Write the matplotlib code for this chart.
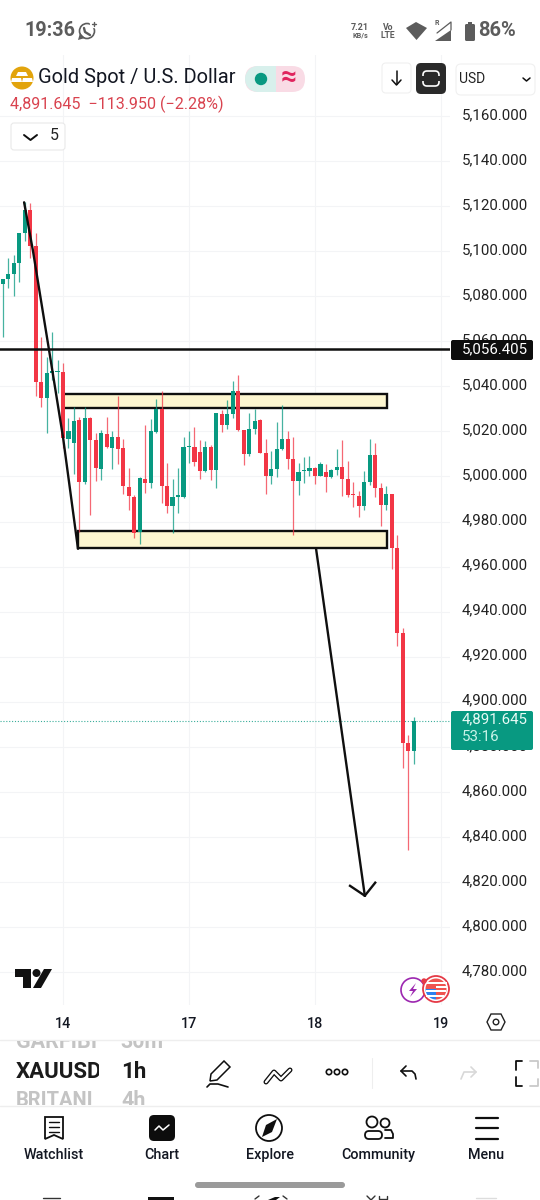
import matplotlib
matplotlib.use("Agg")
import matplotlib.pyplot as plt
from matplotlib.patches import Rectangle, FancyBboxPatch, Circle, Polygon, Wedge
from matplotlib.transforms import ScaledTranslation

plt.rcParams['font.family'] = ['Roboto', 'DejaVu Sans']

# hourly candles, index 0 is the first bar of the 14th
first_index = -11
opens = [5085.4, 5087.6, 5089.8, 5094.7, 5108.0, 5118.2, 5102.2, 5041.9, 5034.8, 5045.9, 5046.3,
         5046.3, 5016.7, 5014.9, 5025.0, 4997.6, 5025.9, 5016.2, 5003.4, 5018.9, 5012.7, 5017.5,
         5012.7, 4995.4, 4991.0, 4975.5, 4999.0, 4997.2, 5019.8, 5029.9, 4995.9, 4987.1, 4991.0,
         4991.0, 5012.9, 5013.1, 5010.9, 5002.5, 5013.1, 5002.9, 5027.7, 5022.9, 5027.7, 5037.9,
         5020.6, 5010.0, 5021.1, 5025.0, 5010.5, 5000.3, 5003.4, 5012.2, 5016.7, 5007.8, 4998.1,
         5002.3, 5002.5, 5003.8, 5000.3, 5002.1, 4999.8, 5002.9, 5004.3, 4999.0, 4991.9, 4991.5,
         4987.1, 4997.6, 5009.6, 4995.0, 4987.5, 4992.4, 4968.4, 4930.5, 4881.7, 4878.1]
highs = [5087.8, 5096.9, 5098.2, 5108.0, 5121.7, 5121.3, 5108.0, 5061.9, 5053.0, 5064.1, 5051.7,
         5050.3, 5025.9, 5030.8, 5026.4, 5030.8, 5026.4, 5019.3, 5020.6, 5026.4, 5020.2, 5035.7,
         5016.7, 5003.8, 4991.9, 4999.8, 5022.9, 5025.5, 5034.4, 5037.9, 5006.0, 4999.0, 5003.8,
         5017.5, 5020.2, 5022.0, 5016.2, 5015.8, 5014.0, 5028.1, 5029.5, 5033.9, 5042.4, 5045.0,
         5020.8, 5028.1, 5029.9, 5025.5, 5016.7, 5011.4, 5024.2, 5031.7, 5020.2, 5017.5, 5006.0,
         5008.7, 5009.1, 5004.3, 5006.5, 5005.6, 5003.4, 5012.2, 5016.2, 5006.9, 4997.6, 4993.7,
         5002.5, 5016.7, 5014.9, 4997.2, 4995.9, 4992.4, 4974.1, 4932.7, 4885.3, 4893.3]
lows = [5061.9, 5083.6, 5080.0, 5086.3, 5104.4, 5096.9, 5035.7, 5030.8, 5019.3, 5042.8, 5037.0,
        5012.7, 5012.7, 5001.2, 4975.5, 4996.7, 4983.1, 4998.1, 4998.5, 5012.7, 5003.4, 5005.6,
        4992.4, 4985.3, 4972.9, 4970.2, 4992.8, 4995.0, 5019.3, 4988.4, 4984.0, 4974.7, 4984.0,
        4990.6, 5006.0, 5004.7, 4999.0, 5002.1, 4998.5, 4995.0, 5019.8, 5021.1, 5025.9, 5020.2,
        5005.1, 5009.1, 5018.9, 5010.3, 4992.4, 4996.7, 4999.8, 5011.8, 5003.4, 4974.2, 4991.9,
        4997.2, 5000.3, 4996.7, 5000.1, 4993.3, 4999.4, 5000.7, 4991.5, 4991.0, 4986.6, 4982.2,
        4984.9, 4996.3, 4991.0, 4977.8, 4985.3, 4959.1, 4924.7, 4870.6, 4834.3, 4872.4]
closes = [5087.6, 5089.8, 5094.7, 5108.0, 5118.2, 5102.2, 5041.9, 5034.8, 5045.9, 5046.8, 5046.8,
          5017.1, 5020.2, 5024.6, 4997.6, 5025.9, 5016.2, 5003.8, 5019.3, 5013.1, 5017.5, 5012.2,
          4995.9, 4991.5, 4975.1, 4999.4, 4997.2, 5020.2, 5029.9, 4995.9, 4987.1, 4991.0, 4991.3,
          5013.1, 5013.1, 5006.5, 5002.5, 5013.1, 5002.9, 5028.1, 5022.9, 5027.7, 5037.9, 5020.6,
          5010.0, 5021.1, 5024.6, 5010.5, 5000.3, 5003.4, 5012.2, 5016.7, 5007.8, 4998.1, 5002.1,
          5002.5, 5003.8, 5000.3, 5005.6, 4999.8, 5002.9, 5004.3, 4999.0, 4991.9, 4991.7, 4987.1,
          4997.6, 5009.6, 4995.0, 4987.5, 4992.4, 4968.4, 4930.5, 4881.7, 4878.1, 4891.645]

price_ticks = [5160, 5140, 5120, 5100, 5080, 5060, 5040, 5020, 5000, 4980,
               4960, 4940, 4920, 4900, 4880, 4860, 4840, 4820, 4800, 4780]
day_ticks = [0, 23, 46, 69]
day_labels = ["14", "17", "18", "19"]

last_price = 4891.645
level_price = 5056.405

# drawings on top of the candles, as (bar index, price)
upper_zone = (0.0, 59.1, 5030.2, 5036.8)
lower_zone = (2.74, 59.1, 4968.1, 4975.6)
trend_x = [-7.1, -5.5, -2.4, 0.0, 2.74]
trend_y = [5121.7, 5100.4, 5053.9, 5017.5, 4967.9]
arrow_x = [46.2, 55.1]
arrow_y = [4967.9, 4813.9]
head_x = [52.4, 55.1, 57.0]
head_y = [4818.3, 4813.9, 4819.7]

RED = "#F23645"
GREEN = "#089981"
BLACK = "#0f0f0f"

fig = plt.figure(figsize=(5.4, 12), dpi=100, facecolor="white")

# chart pane, 450 px wide from y=55 to y=1005
ax = fig.add_axes([0, 1 - 1005 / 1200, 450 / 540, 950 / 1200])
ax.set_xlim(-11.5, 70.65)
ax.set_ylim(4765.4, 5187.08)
for s in ax.spines.values():
    s.set_visible(False)
ax.yaxis.tick_right()
ax.set_yticks(price_ticks)
ax.set_yticklabels([f"{p:,}.000" for p in price_ticks], fontsize=10.8, color="#222222")
ax.set_xticks(day_ticks)
ax.set_xticklabels(day_labels, fontsize=10.4, fontweight="medium", color="#131722")
ax.tick_params(axis="y", length=0, pad=8.3)
ax.tick_params(axis="x", length=0, pad=8.5)
ax.grid(True, color="#f3f4f6", lw=0.8)
ax.set_axisbelow(True)
# price labels sit slightly above their grid lines
lift = ScaledTranslation(0, 2.5 / 72 * 0.72, fig.dpi_scale_trans)
for t in ax.get_yticklabels():
    t.set_transform(t.get_transform() + lift)

for n in range(len(opens)):
    i = first_index + n
    col = GREEN if closes[n] >= opens[n] else RED
    ax.vlines(i, lows[n], highs[n], color=col, lw=0.9, alpha=0.75, zorder=2)
    bottom = min(opens[n], closes[n])
    height = max(abs(closes[n] - opens[n]), 0.7)
    ax.bar(i, height, bottom=bottom, width=0.75, color=col, lw=0, zorder=3)

ax.axhline(level_price, color=BLACK, lw=1.8, zorder=4)
ax.axhline(last_price, color=GREEN, lw=0.8, ls=(0, (1, 1.6)), alpha=0.8, zorder=1)

for x0, x1, y0, y1 in [upper_zone, lower_zone]:
    ax.add_patch(Rectangle((x0, y0), x1 - x0, y1 - y0, fc="#fdf6d0", ec=BLACK, lw=1.7, zorder=1.5))
ax.plot(trend_x, trend_y, color=BLACK, lw=1.7, zorder=4, solid_capstyle="round")
ax.plot(arrow_x, arrow_y, color=BLACK, lw=1.7, zorder=4)
ax.plot(head_x, head_y, color=BLACK, lw=1.7, zorder=4)

# app chrome in pixel coordinates
ui = fig.add_axes([0, 0, 1, 1])
ui.set_xlim(0, 540)
ui.set_ylim(1200, 0)
ui.axis("off")
ui.patch.set_alpha(0)


def rbox(x, y, w, h, r, fc, ec="none", lw=0.8, z=5):
    ui.add_patch(FancyBboxPatch((x + r, y + r), w - 2 * r, h - 2 * r,
                                boxstyle=f"round,pad={r}", fc=fc, ec=ec, lw=lw, zorder=z))


def line(xs, ys, c=BLACK, lw=1.3, z=6):
    ui.plot(xs, ys, color=c, lw=lw, zorder=z, solid_capstyle="round", solid_joinstyle="round")


def clipped(x, y, s, right, **kw):
    # list rows are cut off at the edges of the picker
    t = ui.text(x, y, s, va="center", zorder=6, **kw)
    t.set_clip_path(Rectangle((0, 1041), right, 64, transform=ui.transData))
    t.set_clip_on(True)
    return t


# status bar
GREY = "#5c5c5c"
ui.text(24, 31, "19:36", fontsize=14.2, fontweight="bold", color=GREY, va="center")
ui.add_patch(Circle((87, 31), 7.5, fc="none", ec=GREY, lw=1.2, zorder=5))
ui.add_patch(Circle((94, 24), 4.2, fc="white", ec="none", zorder=5.2))
ui.add_patch(Polygon([[78, 40], [80, 33], [85, 38]], fc=GREY, ec="none", zorder=5.3))
line([84, 85, 90], [28, 32, 35], GREY, 1.7)
line([92, 96], [24, 24], GREY, 1.0)
line([94, 94], [22, 26], GREY, 1.0)
ui.text(360, 27, "7.21", fontsize=6.4, fontweight="bold", color=GREY, ha="center", va="center")
ui.text(360, 36, "KB/s", fontsize=5.2, fontweight="bold", color=GREY, ha="center", va="center")
ui.text(388, 27, "Vo", fontsize=6.2, fontweight="bold", color=GREY, ha="center", va="center")
ui.text(388, 36, "LTE", fontsize=6.2, fontweight="bold", color=GREY, ha="center", va="center")
ui.add_patch(Polygon([[406, 28], [416, 22], [427, 28], [416.5, 40]], fc=GREY, ec="none"))
ui.add_patch(Polygon([[435, 41], [451, 41], [451, 30]], fc=GREY, ec="none"))
line([437, 451, 451], [33, 22, 30], GREY, 0.9)
ui.text(437, 23, "R", fontsize=5, fontweight="bold", color=GREY, ha="center", va="center")
rbox(465, 24, 10, 17, 1.5, GREY)
ui.add_patch(Rectangle((468, 22), 4, 2, fc=GREY, ec="none"))
ui.text(478, 31, "86%", fontsize=14.5, fontweight="bold", color=GREY, va="center")

# symbol header
ui.add_patch(Circle((22, 78), 11.5, fc="#e2a40c", ec="none", zorder=5))
ui.add_patch(Polygon([[18, 72], [26, 72], [28, 76], [16, 76]], fc="white", ec="none", zorder=6))
ui.add_patch(Polygon([[12, 78], [21, 78], [22, 82], [11, 82]], fc="white", ec="none", zorder=6))
ui.add_patch(Polygon([[23, 78], [32, 78], [33, 82], [22, 82]], fc="white", ec="none", zorder=6))
ui.text(38.5, 77.5, "Gold Spot / U.S. Dollar", fontsize=14.4, color="#131722", va="center", zorder=6)
rbox(245, 66, 60, 26, 13, "#f9dbe5", z=5)
ui.add_patch(Wedge((258, 79), 13, 90, 270, fc="#d8f0ec", ec="none", zorder=5.5))
ui.add_patch(Rectangle((258, 66), 18, 26, fc="#d8f0ec", ec="none", zorder=5.5))
ui.add_patch(Circle((261, 79), 6.2, fc=GREEN, ec="none", zorder=6))
ui.text(289, 78, "≈", fontsize=20, fontweight="bold", color="#e0245e", ha="center", va="center", zorder=6)
ui.text(10, 104, "4,891.645  −113.950 (−2.28%)", fontsize=11.6, color="#d9434f", va="center", zorder=6)
rbox(11, 123, 54, 27, 3, "white", ec="#e9e9e9")
line([24, 30.5, 37], [135, 140, 135], BLACK, 1.4)
ui.text(54, 136, "5", fontsize=11.5, color="#222222", ha="center", va="center", zorder=6)

# top right buttons
rbox(382, 63, 29, 30, 4, "white", ec="#f0f0f0")
line([396.5, 396.5], [71, 84], BLACK, 1.1)
line([392, 396.5, 401], [80, 85, 80], BLACK, 1.1)
rbox(416, 63, 30, 31, 5, "#2a2a2a")
rbox(423, 71, 16, 15, 4, "none", ec="white", lw=1.2, z=6)
ui.add_patch(Rectangle((420, 76), 22, 5, fc="#2a2a2a", ec="none", zorder=6.5))
rbox(456, 64, 79, 31, 5, "white", ec="#f0f0f0")
ui.text(459.5, 79, "USD", fontsize=10, color="#222222", va="center", zorder=6)
line([523, 526.5, 530], [78, 81, 78], BLACK, 1.1)

# price tags
rbox(451, 340, 82, 20, 2, "#0d0d0d")
ui.text(462, 349.5, "5,056.405", fontsize=10.8, color="white", va="center", zorder=6)
rbox(451, 711, 82, 39, 2, GREEN)
ui.text(462, 719.5, "4,891.645", fontsize=10.8, color="#e8fbf6", va="center", zorder=6)
ui.text(462, 737, "53:16", fontsize=10.8, color="#c9f3e8", va="center", zorder=6)

# TradingView mark
ui.add_patch(Polygon([[15, 969], [31, 969], [31, 988], [23, 988], [23, 977], [15, 977]], fc="#111111", ec="none", zorder=6))
ui.add_patch(Circle((36.5, 973), 4, fc="#111111", ec="none", zorder=6))
ui.add_patch(Polygon([[44, 969], [52, 969], [41, 988], [33, 988]], fc="#111111", ec="none", zorder=6))

# event badges
ui.add_patch(Circle((413, 990), 12, fc="white", ec="#9c27b0", lw=1.2, zorder=6))
ui.add_patch(Polygon([[416, 983], [409, 991], [413, 991], [410, 997], [417, 989], [413, 989]], fc="#9c27b0", ec="none", zorder=6.1))
ui.add_patch(Circle((436, 989), 13, fc="white", ec="#e53946", lw=1.3, zorder=6.2))
ui.add_patch(Wedge((436, 989), 10.5, 180, 360, fc="#ef5350", ec="none", zorder=6.3))
ui.add_patch(Rectangle((426, 990), 20, 2, fc="white", ec="none", zorder=6.4))
ui.add_patch(Rectangle((426, 995), 18, 1.8, fc="white", ec="none", zorder=6.4))
ui.add_patch(Wedge((436, 989), 10.5, 90, 180, fc="#2f80ed", ec="none", zorder=6.3))
ui.add_patch(Wedge((436, 989), 10.5, 0, 90, fc="#ef5350", ec="none", zorder=6.3))
ui.add_patch(Rectangle((425.5, 982), 21, 1.8, fc="white", ec="none", zorder=6.4))
ui.add_patch(Rectangle((436, 986), 11, 1.8, fc="white", ec="none", zorder=6.4))
ui.add_patch(Circle((424, 981), 2.7, fc="#e53946", ec="none", zorder=6.5))

# settings hexagon next to the time scale
ui.add_patch(Polygon([[487, 1022], [491, 1014], [501, 1014], [505, 1022], [501, 1030], [491, 1030]], fc="none", ec="#222222", lw=1.0, zorder=6))
ui.add_patch(Circle((496, 1022), 2.8, fc="none", ec="#222222", lw=1.0, zorder=6))

# layout list and drawing toolbar
line([0, 540], [1040, 1040], "#eeeeee", 1.0)
line([0, 540], [1106, 1106], "#eeeeee", 1.0)
line([372, 372], [1058, 1088], "#eeeeee", 0.8)
clipped(16, 1042, "GARFIBI", 97, fontsize=15.5, fontweight="bold", color="#c4c4c4")
clipped(120, 1042, "30m", 200, fontsize=15.5, fontweight="bold", color="#c4c4c4")
clipped(16, 1072, "XAUUSD", 99, fontsize=16, fontweight="bold", color="#1b1b1b")
clipped(121, 1072, "1h", 200, fontsize=16, fontweight="bold", color="#1b1b1b")
clipped(16, 1101, "BRITANI", 93, fontsize=14.5, fontweight="bold", color="#c4c4c4")
clipped(121, 1101, "4h", 200, fontsize=15.5, fontweight="bold", color="#c4c4c4")

# pencil with a squiggle
ui.add_patch(Polygon([[211, 1074], [224, 1061], [230, 1067], [217, 1080], [210, 1081]], fc="white", ec=BLACK, lw=1.1, zorder=6))
line([207, 210, 218, 228], [1087, 1084, 1084, 1087], BLACK, 1.2)
# trend tool
line([266, 274, 281, 290], [1082, 1072, 1079, 1070], BLACK, 3.6)
line([266, 274, 281, 290], [1082, 1072, 1079, 1070], "white", 1.7, z=6.2)
# three dots
for cx in [329, 337, 345]:
    ui.add_patch(Circle((cx, 1072), 2.7, fc="white", ec=BLACK, lw=1.2, zorder=6))
# undo, redo
line([401, 412, 415, 416], [1071, 1071, 1074, 1079], BLACK, 1.2)
line([406, 401, 406], [1066, 1071, 1076], BLACK, 1.2)
line([461, 464, 476], [1079, 1072, 1072], "#d8d8d8", 1.2)
line([471, 476, 471], [1067, 1072, 1077], "#d8d8d8", 1.2)
# full screen corners
line([522, 516, 516], [1061, 1061, 1070], BLACK, 1.3)
line([522, 516, 516], [1086, 1086, 1077], BLACK, 1.3)
line([530, 538, 538], [1061, 1061, 1068], "#c9c9c9", 1.3)
line([530, 538, 538], [1086, 1086, 1079], "#c9c9c9", 1.3)

# bottom navigation
tab_x = [54, 162, 270, 378, 486]
tab_names = ["Watchlist", "Chart", "Explore", "Community", "Menu"]
for x, name in zip(tab_x, tab_names):
    ui.text(x, 1155, name, fontsize=10.4, fontweight="medium", color="#131722", ha="center", va="center", zorder=6)

ui.add_patch(Polygon([[45, 1117], [63, 1117], [63, 1139], [54, 1135], [45, 1139]], fc="none", ec=BLACK, lw=1.3, zorder=6))
for y in [1122, 1127, 1132]:
    line([49, 59], [y, y], BLACK, 1.0)
rbox(149, 1115, 26, 26, 5, "#0d0d0d")
line([155, 159, 163, 169], [1130, 1126, 1130, 1125], "white", 1.1)
ui.add_patch(Circle((269, 1128), 13, fc="none", ec=BLACK, lw=1.3, zorder=6))
ui.add_patch(Polygon([[277, 1119], [272, 1132], [262, 1137], [266, 1125]], fc=BLACK, ec="none", zorder=6))
ui.add_patch(Circle((372, 1122), 5.5, fc="none", ec=BLACK, lw=1.3, zorder=6))
ui.add_patch(Circle((385, 1123), 4.5, fc="none", ec=BLACK, lw=1.3, zorder=6))
rbox(365, 1131, 17, 8, 4, "none", ec=BLACK, lw=1.3, z=6)
line([385, 391, 393, 393, 385], [1130, 1130, 1134, 1138, 1138], BLACK, 1.3)
for y in [1118, 1128, 1139]:
    line([476, 498], [y, y], BLACK, 1.6)

rbox(195, 1182, 150, 6, 3, "#9a9a9a")

# next screen peeking in at the very bottom
line([43, 60], [1198, 1198], "#333333", 1.0)
ui.add_patch(Rectangle((148, 1197), 26, 3, fc="#111111", ec="none", zorder=6))
line([255, 259], [1199, 1196], "#333333", 1.0)
ui.add_patch(Polygon([[268, 1200], [275, 1197], [280, 1197], [276, 1200]], fc="#111111", ec="none", zorder=6))
line([283, 287], [1196, 1199], "#333333", 1.0)
line([367, 371, 375], [1196, 1200, 1196], "#333333", 1.0)
line([379, 379, 387, 387], [1196, 1199, 1199, 1196], "#333333", 1.0)
line([476, 496], [1198, 1198], "#dddddd", 1.0)

fig.savefig("out.png", dpi=100)
